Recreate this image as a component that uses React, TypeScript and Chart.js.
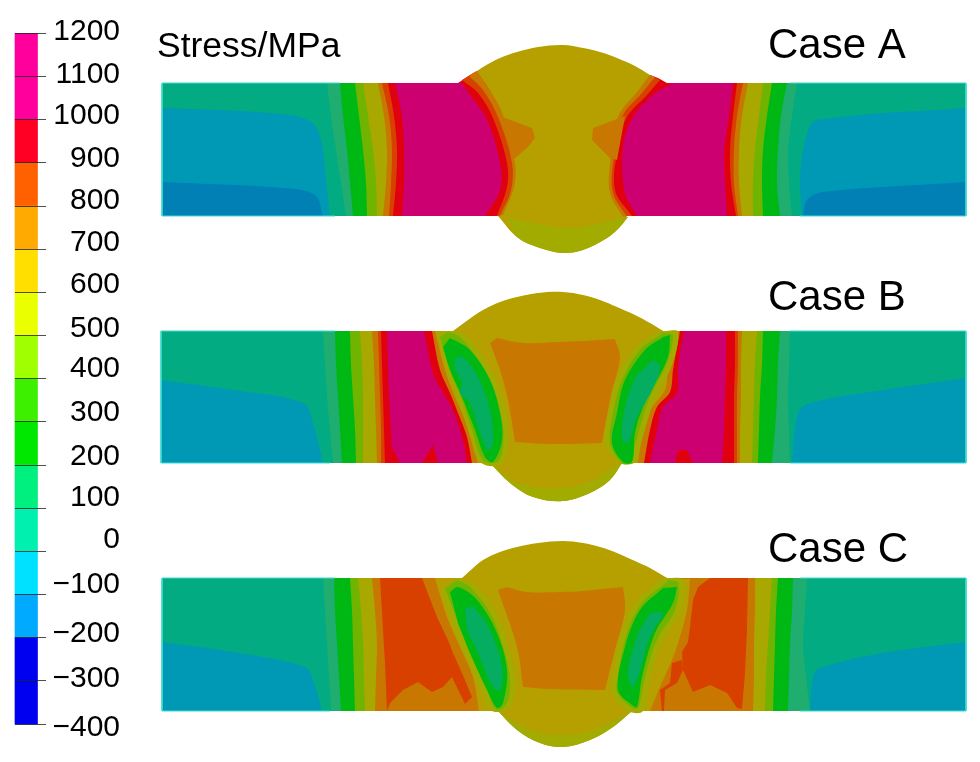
import React, { useEffect, useRef } from "react";
import { Chart, registerables } from "chart.js";

Chart.register(...registerables);

type Pt = [number, number];
type Seg = Pt[];

// ---------- colour scale ----------
const stressTicks = [1200, 1100, 1000, 900, 800, 700, 600, 500, 400, 300, 200, 100, 0, -100, -200, -300, -400];
const stressLabels = ["1200", "1100", "1000", "900", "800", "700", "600", "500", "400", "300", "200", "100", "0", "\u2212100", "\u2212200", "\u2212300", "\u2212400"];
const stressLabelAnchors = [1204, 1104, 1009, 909, 812, 715, 618, 516, 423, 321, 219, 125, 27, -77, -191, -295, -408];
const bandLows = [1000, 900, 800, 700, 600, 500, 400, 300, 200, 100, 0, -100, -200, -400];
const bandHighs = [1200, 1000, 900, 800, 700, 600, 500, 400, 300, 200, 100, 0, -100, -200];
const bandColors = ["#ff009c", "#ff0024", "#ff6000", "#ffaa00", "#ffdf00", "#eaff00", "#a0ff00", "#3cf000", "#00e800", "#00f080", "#00f0b0", "#00e0ff", "#00aaff", "#0000f0"];

// ---------- contour colours ----------
const TEAL = "#03ab82", BLUE = "#0099b5", DEEP = "#0080b5", LGREEN = "#1fae70", GREEN = "#00b814";
const YGREEN = "#70b400", OLIVE = "#a8a800", BODY = "#b5a000", LOWER = "#a2ab00", ORANGE = "#c87800";
const OREDS = "#d84000", RED = "#e00010", MAGENTA = "#cc0070", INNER = "#04ad60", EDGE = "#3ddccf";

// ---------- Case A ----------
const plateA: Seg[] = [[[162, 83]], [[966, 83]], [[966, 216]], [[162, 216]]];
const rowsA = [83, 116, 150, 183, 216];
const blueA: Seg[][] = [
  [[[162, 108], [270, 113], [310, 121], [321, 140], [326, 180], [330, 216]], [[162, 216]]],
  [[[966, 108], [817, 120], [807, 133], [800, 177], [802, 216]], [[966, 216]]],
];
const deepA: Seg[][] = [
  [[[162, 182], [283, 188], [315, 195], [323, 216]], [[162, 216]]],
  [[[966, 182], [823, 192], [807, 200], [803, 216]], [[966, 216]]],
];
const leftBandsA: [string, number[]][] = [
  [LGREEN, [327, 331, 336, 341, 346]],
  [GREEN, [340, 343, 347, 350, 353]],
  [YGREEN, [355, 359, 363, 366, 367]],
  [OLIVE, [363, 368, 373, 376, 377]],
  [ORANGE, [378, 384, 387, 386, 383]],
  [OREDS, [382, 389, 392, 391, 389]],
  [RED, [388, 394, 397, 396, 393]],
  [MAGENTA, [395, 402, 404, 404, 402]],
];
const rightBandsA: [string, number[]][] = [
  [LGREEN, [797, 792, 788, 789, 792]],
  [GREEN, [787, 781, 778, 777, 780]],
  [YGREEN, [772, 767, 763, 762, 763]],
  [OLIVE, [763, 759, 755, 753, 753]],
  [ORANGE, [748, 742, 739, 739, 742]],
  [OREDS, [743, 737, 734, 734, 738]],
  [RED, [737, 733, 730, 731, 736]],
  [MAGENTA, [733, 729, 724, 725, 727]],
];
const stripsA: [string, Seg[]][] = [
  [RED, [[[477, 71], [470, 75], [458, 83]], [[462, 83], [470, 95], [487, 120], [500, 163], [500, 190], [485, 216]], [[637, 216], [625, 193], [623, 147], [633, 117], [653, 95], [672, 83]], [[667, 83], [658, 78], [650, 75]]]],
  [OREDS, [[[477, 71]], [[462, 80], [478, 93], [493, 118], [507, 163], [507, 187], [497, 216]], [[632, 216], [615, 190], [618, 147], [627, 117], [647, 95], [660, 80]], [[650, 75]]]],
  [ORANGE, [[[477, 71]], [[469, 76], [483, 90], [498, 117], [512, 163], [511, 190], [500, 216]], [[627, 217], [613, 193], [613, 163], [622, 117], [642, 93], [655, 77]], [[650, 75]]]],
];
const bodyA: Seg[] = [
  [[477, 71], [483, 67], [500, 58], [517, 52], [538, 47], [563, 45], [583, 48], [600, 52], [617, 58], [635, 66], [650, 75]],
  [[650, 75], [637, 92], [618, 117], [610, 163], [610, 193], [623, 217]],
  [[628, 217], [618, 229], [607, 238], [583, 250], [563, 253], [540, 248], [517, 237], [498, 216]],
  [[503, 215], [514, 187], [515, 163], [503, 115], [490, 90], [477, 71]],
];
const wedgesA: Seg[][] = [
  [[[500, 116]], [[532, 128]], [[535, 138]], [[528, 147]], [[513, 160]]],
  [[[625, 116]], [[593, 128]], [[592, 140]], [[610, 158]], [[617, 160]]],
];
const lowerA: Seg[] = [
  [[507, 217], [533, 223], [560, 227], [583, 227], [613, 220], [628, 217]],
  [[628, 217], [618, 229], [607, 238], [583, 250], [563, 253], [540, 248], [517, 237], [507, 217]],
];

// ---------- Case B ----------
const plateB: Seg[] = [[[161, 331]], [[966, 331]], [[966, 463]], [[161, 463]]];
const rowsB = [331, 364, 397, 430, 463];
const blueB: Seg[][] = [
  [[[161, 380], [233, 390], [303, 403], [313, 423], [323, 463]], [[161, 463]]],
  [[[966, 378], [883, 390], [810, 403], [798, 413], [792, 463]], [[966, 463]]],
];
const leftBandsB: [string, number[]][] = [
  [LGREEN, [323, 325, 327, 330, 333]],
  [GREEN, [335, 336, 338, 340, 342]],
  [YGREEN, [350, 351, 353, 355, 356]],
  [OLIVE, [360, 362, 363, 363, 363]],
  [ORANGE, [372, 374, 375, 376, 377]],
  [OREDS, [378, 379, 380, 381, 381]],
  [RED, [381, 382, 383, 384, 385]],
  [MAGENTA, [387, 388, 389, 391, 392]],
];
const rightBandsB: [string, number[]][] = [
  [LGREEN, [790, 789, 788, 789, 790]],
  [GREEN, [780, 778, 777, 775, 772]],
  [YGREEN, [763, 762, 760, 759, 758]],
  [OLIVE, [757, 755, 754, 753, 752]],
  [ORANGE, [742, 741, 741, 740, 740]],
  [OREDS, [738, 738, 737, 737, 737]],
  [RED, [735, 735, 734, 734, 734]],
  [MAGENTA, [726, 726, 725, 724, 722]],
];
const patchesB: Seg[][] = [
  [[[392, 463]], [[392, 447]], [[400, 463]]],
  [[[422, 463]], [[433, 445]], [[438, 463]]],
  [[[675, 463]], [[678, 450]], [[687, 450]], [[693, 463]]],
];
const stripsB: [string, Seg[]][] = [
  [RED, [[[424, 331], [433, 373], [443, 393], [452, 408], [462, 437], [467, 463]], [[650, 463], [657, 430], [663, 407], [677, 393], [678, 367], [684, 331]]]],
  [ORANGE, [[[432, 331], [440, 370], [450, 393], [458, 413], [467, 437], [472, 463]], [[644, 463], [650, 430], [657, 407], [670, 392], [673, 370], [680, 331]]]],
];
const bodyB: Seg[] = [
  [[435, 331]],
  [[453, 331], [468, 320], [483, 310], [500, 302], [517, 297], [538, 293], [563, 292], [583, 295], [600, 300], [617, 307], [635, 315], [650, 323], [665, 332]],
  [[677, 332], [668, 370], [665, 390], [650, 410], [643, 430], [638, 463]],
  [[622, 463], [610, 480], [590, 493], [563, 501], [533, 497], [510, 483], [490, 463]],
  [[478, 463], [473, 447], [465, 420], [455, 397], [445, 370], [435, 331]],
];
const lowerB: Seg[] = [
  [[497, 468], [517, 483], [560, 488], [590, 482], [613, 467], [622, 463]],
  [[622, 463], [610, 480], [590, 493], [563, 501], [533, 497], [510, 483], [490, 463]],
];
const centreB: Seg[] = [[[490, 343], [497, 338]], [[497, 338], [523, 343], [560, 342], [583, 341], [615, 339]], [[615, 339], [620, 358], [611, 395], [602, 443]], [[602, 443], [550, 444], [515, 442]], [[515, 442], [508, 400], [500, 370], [490, 343]]];
const lensesB: [string, Seg[]][] = [
  [LOWER, [[[436, 333], [447, 370], [458, 400], [470, 435], [480, 462], [500, 465], [508, 447], [507, 420], [498, 385], [483, 357], [465, 335], [450, 331]]]],
  [LOWER, [[[665, 331], [678, 332], [672, 365], [655, 399], [645, 429], [638, 455], [634, 463], [620, 463], [605, 443], [608, 413], [617, 378], [636, 347], [660, 331]]]],
  [YGREEN, [[[440, 337], [450, 370], [462, 400], [473, 433], [483, 460], [497, 462], [503, 447], [502, 420], [493, 387], [478, 360], [460, 337], [448, 332]]]],
  [YGREEN, [[[665, 333], [673, 335], [667, 363], [650, 397], [640, 427], [633, 453], [630, 463], [622, 463], [610, 443], [613, 413], [622, 380], [640, 350], [663, 333]]]],
  [GREEN, [[[450, 338], [470, 350], [490, 380], [500, 413], [502, 440], [493, 462], [485, 457], [475, 430], [462, 397], [450, 370], [443, 347]]]],
  [GREEN, [[[670, 335], [668, 357], [657, 380], [643, 407], [635, 433], [632, 462], [623, 462], [612, 443], [617, 413], [625, 380], [645, 350], [663, 337]]]],
  [INNER, [[[455, 358], [463, 357], [478, 377], [490, 410], [493, 443], [488, 450], [478, 427], [470, 403], [460, 393], [462, 383], [455, 370]]]],
  [INNER, [[[653, 360], [660, 367], [652, 390], [637, 417], [628, 443], [622, 438], [625, 407], [635, 377]]]],
];

// ---------- Case C ----------
const plateC: Seg[] = [[[162, 578]], [[966, 578]], [[966, 711]], [[162, 711]]];
const rowsC = [578, 611, 644, 677, 711];
const blueC: Seg[][] = [
  [[[162, 642], [233, 652], [305, 667], [313, 680], [322, 711]], [[162, 711]]],
  [[[966, 642], [883, 653], [820, 668], [813, 677], [810, 711]], [[966, 711]]],
];
const leftBandsC: [string, number[]][] = [
  [LGREEN, [323, 325, 327, 329, 331]],
  [GREEN, [334, 335, 337, 339, 341]],
  [YGREEN, [350, 352, 353, 354, 355]],
  [OLIVE, [358, 361, 363, 364, 365]],
  [ORANGE, [372, 375, 377, 376, 375]],
];
const rightBandsC: [string, number[]][] = [
  [LGREEN, [807, 805, 803, 806, 810]],
  [GREEN, [793, 792, 790, 789, 788]],
  [YGREEN, [778, 776, 775, 774, 773]],
  [OLIVE, [772, 770, 768, 766, 765]],
  [ORANGE, [755, 755, 754, 754, 753]],
];
const hotC: Seg[][] = [
  [[[380, 578]], [[422, 578]], [[437, 617]], [[448, 640]], [[453, 653]], [[462, 673]], [[472, 697]], [[465, 704]], [[452, 677]], [[443, 687]], [[432, 692]], [[418, 682]], [[403, 690]], [[390, 703]], [[387, 711]], [[385, 663]], [[383, 630]]],
  [[[710, 578]], [[748, 578]], [[747, 630]], [[745, 673]], [[742, 709]], [[737, 708]], [[727, 693]], [[710, 685]], [[693, 692]], [[683, 670]], [[682, 652]], [[688, 642]], [[690, 627]], [[693, 600]], [[698, 587]]],
  [[[662, 711]], [[660, 690]], [[670, 683]], [[672, 663]], [[682, 660]], [[683, 670]], [[677, 683]], [[665, 690]], [[664, 711]]],
];
const bodyC: Seg[] = [
  [[435, 578]],
  [[462, 578], [472, 569], [483, 560], [500, 552], [517, 547], [538, 543], [563, 541], [583, 543], [600, 547], [617, 553], [635, 561], [650, 568], [669, 579]],
  [[690, 579], [687, 610], [678, 643], [672, 660], [660, 687], [650, 711]],
  [[632, 711], [613, 727], [590, 740], [563, 747], [540, 743], [517, 730], [498, 711]],
  [[479, 711], [473, 677], [460, 647], [447, 617], [435, 578]],
];
const lowerC: Seg[] = [
  [[505, 716], [530, 730], [560, 735], [590, 731], [615, 720], [632, 711]],
  [[632, 711], [613, 727], [590, 740], [563, 747], [540, 743], [517, 730], [498, 711]],
];
const centreC: Seg[] = [[[498, 590], [507, 587]], [[507, 587], [527, 592], [560, 592], [583, 591], [623, 587]], [[623, 587], [625, 610], [615, 650], [605, 690]], [[605, 690], [550, 689], [523, 687]], [[523, 687], [517, 647], [498, 590]]];
const lensesC: [string, Seg[]][] = [
  [LOWER, [[[441, 590], [452, 622], [465, 655], [482, 692], [492, 711], [510, 707], [515, 680], [508, 645], [495, 611], [475, 585], [457, 578]]]],
  [LOWER, [[[665, 578], [683, 580], [680, 612], [662, 642], [650, 679], [643, 711], [628, 711], [612, 694], [613, 675], [622, 631], [638, 600], [660, 580]]]],
  [YGREEN, [[[445, 588], [457, 620], [470, 653], [487, 690], [497, 710], [507, 703], [510, 680], [503, 647], [490, 613], [470, 587], [457, 580]]]],
  [YGREEN, [[[668, 580], [678, 583], [675, 610], [657, 640], [645, 677], [638, 708], [632, 708], [617, 692], [618, 677], [627, 633], [643, 602], [667, 582]]]],
  [GREEN, [[[450, 592], [458, 587], [477, 600], [497, 633], [507, 670], [503, 703], [497, 708], [487, 690], [470, 653], [458, 623]]]],
  [GREEN, [[[677, 587], [673, 603], [655, 633], [642, 677], [637, 707], [632, 705], [618, 690], [625, 647], [640, 610], [663, 588]]]],
  [INNER, [[[465, 608], [473, 607], [490, 630], [502, 667], [500, 690], [493, 687], [478, 653], [467, 630]]]],
  [INNER, [[[650, 613], [663, 613], [650, 637], [638, 677], [632, 687], [628, 670], [638, 633]]]],
];

// ---------- plate outlines, bright rim of the teal zones ----------
const rims: Pt[][] = [
  [[340, 83], [162, 83], [162, 216], [335, 216]],
  [[790, 83], [966, 83], [966, 216], [800, 216]],
  [[335, 331], [161, 331], [161, 463], [330, 463]],
  [[790, 331], [966, 331], [966, 463], [790, 463]],
  [[335, 578], [162, 578], [162, 711], [330, 711]],
  [[800, 578], [966, 578], [966, 711], [800, 711]],
];

// ---------- texts ----------
const annotations: [string, number, number, number][] = [
  ["Stress/MPa", 157, 57, 35.5],
  ["Case A", 768, 58, 42],
  ["Case B", 768, 310, 42],
  ["Case C", 768, 562, 42],
];

// ---------- scale geometry ----------
const STRESS_TOP = 1277.4;
const STRESS_BOTTOM = -487.7;
const CENTRE = 564;

// Each segment is a smooth run; its ends are doubled so they stay sharp corners under the line tension.
const poly = (color: string, segs: Seg[]) => ({
  type: "line" as const,
  data: segs.flatMap((s) => [s[0], ...s, s[s.length - 1]]).map(([x, y]) => ({ x, y })),
  xAxisID: "x",
  yAxisID: "y",
  fill: "shape",
  backgroundColor: color,
  borderWidth: 0,
  borderColor: color,
  pointRadius: 0,
  pointHoverRadius: 0,
  tension: 0.35,
});
const rimLine = (list: Pt[]) => ({
  type: "line" as const,
  data: list.map(([x, y]) => ({ x, y })),
  xAxisID: "x",
  yAxisID: "y",
  fill: false,
  borderColor: EDGE,
  borderWidth: 1,
  pointRadius: 0,
  tension: 0,
});
const bandSegs = (xs: number[], rows: number[]): Seg[] => [
  xs.map((x, i): Pt => [x, rows[i]]),
  [[CENTRE, rows[rows.length - 1]]],
  [[CENTRE, rows[0]]],
];

function panelDatasets(
  plate: Seg[],
  rows: number[],
  blues: Seg[][],
  deeps: Seg[][],
  left: [string, number[]][],
  right: [string, number[]][],
) {
  return [
    poly(TEAL, plate),
    ...blues.map((b) => poly(BLUE, b)),
    ...deeps.map((b) => poly(DEEP, b)),
    ...left.map(([c, xs]) => poly(c, bandSegs(xs, rows))),
    ...right.map(([c, xs]) => poly(c, bandSegs(xs, rows))),
  ];
}

const textPlugin = {
  id: "caseText",
  afterDraw(chart: any) {
    const { ctx, scales } = chart;
    ctx.save();
    ctx.fillStyle = "#000";
    ctx.textAlign = "left";
    ctx.textBaseline = "alphabetic";
    for (const [text, x, y, size] of annotations) {
      ctx.font = `${size}px "Liberation Sans"`;
      ctx.fillText(text, scales.x.getPixelForValue(x), scales.y.getPixelForValue(y));
    }
    ctx.restore();
  },
};

export default function App() {
  const ref = useRef<HTMLCanvasElement>(null);
  useEffect(() => {
    const painted = [
      ...panelDatasets(plateA, rowsA, blueA, deepA, leftBandsA, rightBandsA),
      ...stripsA.map(([c, p]) => poly(c, p)),
      poly(BODY, bodyA),
      poly(LOWER, lowerA),
      ...wedgesA.map((p) => poly(ORANGE, p)),

      ...panelDatasets(plateB, rowsB, blueB, [], leftBandsB, rightBandsB),
      ...patchesB.map((p) => poly(RED, p)),
      ...stripsB.map(([c, p]) => poly(c, p)),
      poly(BODY, bodyB),
      poly(LOWER, lowerB),
      poly(ORANGE, centreB),
      ...lensesB.map(([c, p]) => poly(c, p)),

      ...panelDatasets(plateC, rowsC, blueC, [], leftBandsC, rightBandsC),
      ...hotC.map((p) => poly(OREDS, p)),
      poly(BODY, bodyC),
      poly(LOWER, lowerC),
      poly(ORANGE, centreC),
      ...lensesC.map(([c, p]) => poly(c, p)),
      ...rims.map(rimLine),
    ];
    const colorbar = {
      type: "bar" as const,
      data: bandLows.map((lo, i) => ({ x: 26.25, y: [lo, bandHighs[i]] })),
      xAxisID: "x",
      yAxisID: "stress",
      backgroundColor: bandColors,
      barThickness: 22.5,
      borderWidth: 0,
      clip: false,
    };
    // Chart.js paints the first dataset last, so the painter's order is reversed.
    const datasets = [colorbar, ...painted.reverse()];
    const fitAxis = (width: number) => (scale: any) => {
      scale.width = width;
      scale.paddingTop = 0;
      scale.paddingBottom = 0;
    };
    const chart = new Chart(ref.current as HTMLCanvasElement, {
      type: "line",
      data: { datasets: datasets as any },
      plugins: [textPlugin],
      options: {
        animation: false,
        responsive: false,
        layout: { padding: 0 },
        plugins: { legend: { display: false }, tooltip: { enabled: false }, title: { display: false } },
        events: [],
        scales: {
          x: { type: "linear", min: 125, max: 980, display: false, offset: false, grid: { offset: false } },
          y: { type: "linear", min: 0, max: 762, reverse: true, display: false, beginAtZero: false },
          stress: {
            type: "linear",
            position: "left",
            weight: 10,
            min: STRESS_BOTTOM,
            max: STRESS_TOP,
            afterFit: fitAxis(46),
            afterBuildTicks: (s: any) => {
              s.ticks = stressTicks.map((value) => ({ value }));
            },
            border: { display: false },
            grid: { z: 1, drawOnChartArea: false, drawTicks: true, tickLength: 31, color: "rgba(35,35,35,0.8)", lineWidth: 1 },
            ticks: { display: false },
          },
          stressText: {
            type: "linear",
            position: "left",
            weight: 1,
            min: STRESS_BOTTOM,
            max: STRESS_TOP,
            afterFit: fitAxis(79),
            afterBuildTicks: (s: any) => {
              s.ticks = stressLabelAnchors.map((value) => ({ value }));
            },
            border: { display: false },
            grid: { display: false, drawTicks: false },
            ticks: {
              autoSkip: false,
              maxRotation: 0,
              minRotation: 0,
              padding: 5,
              color: "#000",
              font: { family: '"Liberation Sans"', size: 30 },
              callback: (_v: any, i: number) => stressLabels[i],
            },
          },
        },
      } as any,
    });
    return () => chart.destroy();
  }, []);
  return (
    <div style={{ position: "fixed", left: 0, top: 0, width: 980, height: 762, background: "#fff" }}>
      <canvas ref={ref} width={980} height={762} style={{ display: "block", filter: "blur(0.6px)" }} />
    </div>
  );
}
